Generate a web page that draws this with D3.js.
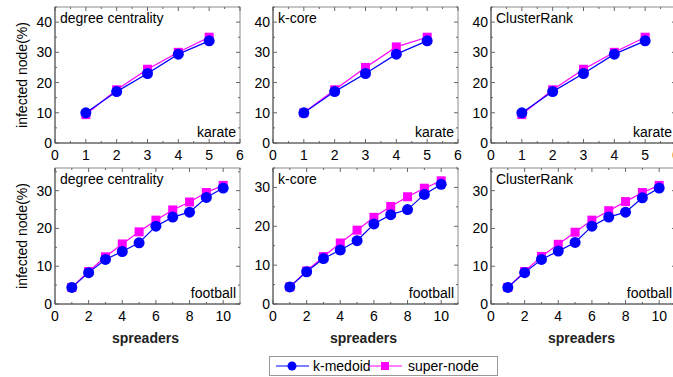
<!DOCTYPE html>
<html lang="en">
<head>
<meta charset="UTF-8">
<title>Infected nodes vs spreaders</title>
<script src="https://d3js.org/d3.v7.min.js"></script>
<style>
    body { margin: 0; background: #fff; }
    svg { display: block; font-family: Arial, "Liberation Sans", sans-serif; }
    .tick-label { font-size: 14px; fill: #000; }
</style>
</head>
<body>
<svg id="chart" width="673" height="377"></svg>
<script>
// ---- data ----
const methods = ["degree centrality", "k-core", "ClusterRank"];

const karateX = [1, 2, 3, 4, 5];
const karateMedoid = [
    [10, 17, 23, 29.4, 33.8],
    [10, 17, 23, 29.4, 33.8],
    [10, 17, 23, 29.4, 33.8]
];
const karateSuper = [
    [9.4, 17.6, 24.4, 30, 35],
    [10, 17.6, 25, 31.8, 35],
    [9.4, 17.6, 24.4, 30, 35]
];

const footballX = [1, 2, 3, 4, 5, 6, 7, 8, 9, 10];
const footballMedoid = [
    [4.4, 8.3, 11.8, 13.9, 16.2, 20.6, 23.0, 24.3, 28.2, 30.7],
    [4.4, 8.3, 11.7, 13.9, 16.3, 20.6, 23.0, 24.3, 28.2, 30.8],
    [4.4, 8.3, 11.8, 14.0, 16.3, 20.6, 23.0, 24.3, 28.1, 30.7]
];
const footballSuper = [
    [4.4, 8.6, 12.5, 15.9, 19.1, 22.2, 24.9, 27.0, 29.5, 31.4],
    [4.4, 8.5, 12.2, 15.7, 19.0, 22.3, 25.1, 27.6, 29.8, 31.7],
    [4.4, 8.6, 12.6, 15.8, 19.0, 22.2, 24.7, 27.1, 29.5, 31.4]
];

const seriesNames = ["k-medoid", "super-node"];
const seriesColors = ["#0000ff", "#ff00ff"];

// ---- layout ----
const colX = [[55, 240], [273, 458], [491, 676]];
const rows = [
    { y: [7, 143], xDomain: [0, 6], xMajor: 1, xMinor: 0.5, yDomains: [[0, 45], [0, 45], [0, 45]],
      xs: karateX, medoid: karateMedoid, sup: karateSuper, net: "karate" },
    { y: [168, 304], xDomain: [0, 11], xMajor: 2, xMinor: 1, yDomains: [[0, 36], [0, 35], [0, 36]],
      xs: footballX, medoid: footballMedoid, sup: footballSuper, net: "football" }
];

const svg = d3.select("#chart");

rows.forEach((row, ri) => {
    methods.forEach((m, ci) => {
        const x = d3.scaleLinear().domain(row.xDomain).range(colX[ci]);
        const y = d3.scaleLinear().domain(row.yDomains[ci]).range([row.y[1], row.y[0]]);
        const g = svg.append("g");

        // frame
        g.append("rect")
            .attr("x", colX[ci][0]).attr("y", row.y[0])
            .attr("width", colX[ci][1] - colX[ci][0])
            .attr("height", row.y[1] - row.y[0])
            .attr("fill", "none").attr("stroke", "#8c8c8c").attr("stroke-width", 1);

        // ticks (inward, mirrored on top/right)
        const xMaj = d3.range(row.xDomain[0], row.xDomain[1] + 1e-9, row.xMajor);
        const xMin = d3.range(row.xDomain[0], row.xDomain[1] + 1e-9, row.xMinor);
        const yMaj = d3.range(0, row.yDomains[ci][1] + 1e-9, 10);
        const yMin = d3.range(0, row.yDomains[ci][1] + 1e-9, 5);
        const tk = g.append("g").attr("stroke", "#666").attr("stroke-width", 1);
        xMin.forEach(v => {
            const len = xMaj.some(t => Math.abs(t - v) < 1e-9) ? 4 : 2;
            tk.append("line").attr("x1", x(v)).attr("x2", x(v)).attr("y1", row.y[1]).attr("y2", row.y[1] - len);
            tk.append("line").attr("x1", x(v)).attr("x2", x(v)).attr("y1", row.y[0]).attr("y2", row.y[0] + len);
        });
        yMin.forEach(v => {
            const len = yMaj.includes(v) ? 4 : 2;
            tk.append("line").attr("y1", y(v)).attr("y2", y(v)).attr("x1", colX[ci][0]).attr("x2", colX[ci][0] + len);
            tk.append("line").attr("y1", y(v)).attr("y2", y(v)).attr("x1", colX[ci][1]).attr("x2", colX[ci][1] - len);
        });

        // axis lines darker
        g.append("line").attr("x1", colX[ci][0]).attr("x2", colX[ci][1])
            .attr("y1", row.y[1]).attr("y2", row.y[1]).attr("stroke", "#555");
        g.append("line").attr("x1", colX[ci][0]).attr("x2", colX[ci][0])
            .attr("y1", row.y[0]).attr("y2", row.y[1]).attr("stroke", "#555");

        // tick labels
        xMaj.forEach(v => {
            g.append("text").attr("class", "tick-label")
                .attr("x", x(v)).attr("y", row.y[1] + 17)
                .attr("text-anchor", "middle").text(v);
        });
        yMaj.forEach(v => {
            g.append("text").attr("class", "tick-label")
                .attr("x", colX[ci][0] - 3).attr("y", y(v) + 5)
                .attr("text-anchor", "end").text(v);
        });

        // titles
        g.append("text").attr("x", colX[ci][0] + 5).attr("y", row.y[0] + 16)
            .attr("font-size", 14).text(m);
        g.append("text").attr("x", colX[ci][0] + 181).attr("y", row.y[1] - 6)
            .attr("font-size", 14).attr("text-anchor", "end").text(row.net);

        // series: super-node first, k-medoid on top
        const line = d3.line().x(d => x(d[0])).y(d => y(d[1]));
        const supPts = row.xs.map((v, i) => [v, row.sup[ci][i]]);
        const medPts = row.xs.map((v, i) => [v, row.medoid[ci][i]]);

        g.append("path").datum(supPts).attr("d", line)
            .attr("fill", "none").attr("stroke", seriesColors[1]).attr("stroke-width", 1.2);
        g.selectAll(".sq").data(supPts).join("rect")
            .attr("x", d => x(d[0]) - 4.5).attr("y", d => y(d[1]) - 4.5)
            .attr("width", 9).attr("height", 9).attr("fill", seriesColors[1]);

        g.append("path").datum(medPts).attr("d", line)
            .attr("fill", "none").attr("stroke", seriesColors[0]).attr("stroke-width", 1.2);
        g.selectAll(".ci").data(medPts).join("circle")
            .attr("cx", d => x(d[0])).attr("cy", d => y(d[1]))
            .attr("r", 5.5).attr("fill", seriesColors[0]);

        if (ri === 1) {
            g.append("text").attr("x", (colX[ci][0] + colX[ci][1]) / 2 - 2).attr("y", 343)
                .attr("font-size", 14).attr("font-weight", "bold").attr("fill", "#222")
                .attr("text-anchor", "middle").text("spreaders");
        }
    });

    // y label
    const cy = (row.y[0] + row.y[1]) / 2;
    svg.append("text")
        .attr("transform", `translate(27,${cy}) rotate(-90)`)
        .attr("font-size", 14).attr("text-anchor", "middle")
        .text("infected node(%)");
});

// legend
const leg = svg.append("g");
leg.append("rect").attr("x", 269.5).attr("y", 356.5).attr("width", 228).attr("height", 19)
    .attr("fill", "#fff").attr("stroke", "#999");
const legItems = [
    { x0: 276, tx: 313 },
    { x0: 369, tx: 408 }
];
legItems.forEach((it, i) => {
    leg.append("line").attr("x1", it.x0).attr("x2", it.x0 + 33)
        .attr("y1", 366).attr("y2", 366)
        .attr("stroke", seriesColors[i]).attr("stroke-width", 1.2);
    if (i === 0) {
        leg.append("circle").attr("cx", it.x0 + 16).attr("cy", 366).attr("r", 4.5).attr("fill", seriesColors[i]);
    } else {
        leg.append("rect").attr("x", it.x0 + 12).attr("y", 362).attr("width", 8).attr("height", 8).attr("fill", seriesColors[i]);
    }
    leg.append("text").attr("x", it.tx).attr("y", 371).attr("font-size", 14).text(seriesNames[i]);
});
</script>
</body>
</html>
